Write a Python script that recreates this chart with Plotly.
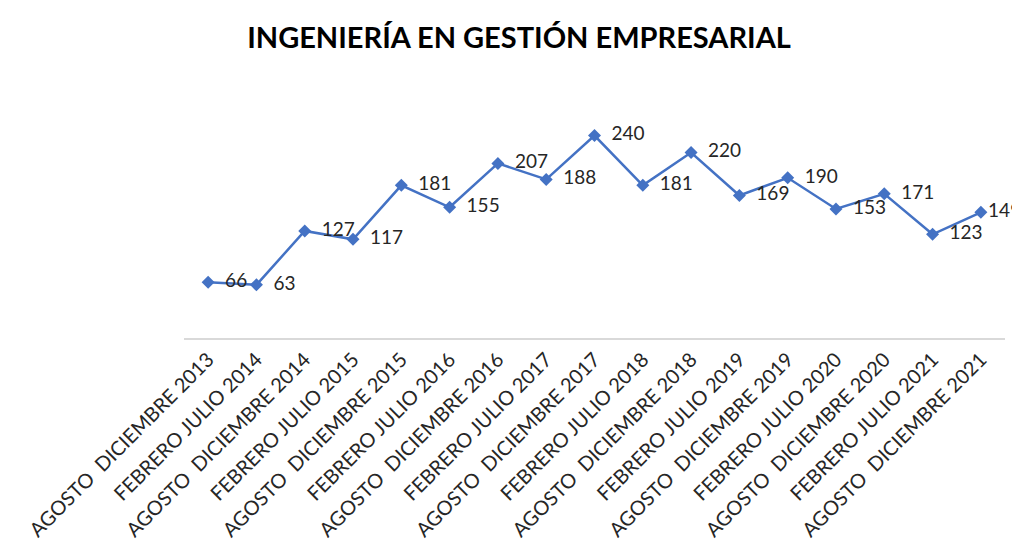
import plotly.graph_objects as go

periodos = [
    "AGOSTO\u00a0 DICIEMBRE 2013", "FEBRERO JULIO 2014",
    "AGOSTO\u00a0 DICIEMBRE 2014", "FEBRERO JULIO 2015",
    "AGOSTO\u00a0 DICIEMBRE 2015", "FEBRERO JULIO 2016",
    "AGOSTO\u00a0 DICIEMBRE 2016", "FEBRERO JULIO 2017",
    "AGOSTO\u00a0 DICIEMBRE 2017", "FEBRERO JULIO 2018",
    "AGOSTO\u00a0 DICIEMBRE 2018", "FEBRERO JULIO 2019",
    "AGOSTO\u00a0 DICIEMBRE 2019", "FEBRERO JULIO 2020",
    "AGOSTO\u00a0 DICIEMBRE 2020", "FEBRERO JULIO 2021",
    "AGOSTO\u00a0 DICIEMBRE 2021",
]
alumnos = [66, 63, 127, 117, 181, 155, 207, 188, 240, 181, 220, 169, 190, 153, 171, 123, 149]

fuente = "Lato, Calibri, sans-serif"

# etiquetas a la derecha del punto; la ultima va mas pegada (como en el original)
etiquetas = ["\u00a0\u00a0" + str(v) for v in alumnos]
etiquetas[-1] = str(alumnos[-1])

fig = go.Figure()
fig.add_trace(go.Scatter(
    x=periodos, y=alumnos,
    mode="lines+markers+text",
    line=dict(color="#4472C4", width=2.5),
    marker=dict(symbol="diamond", size=10, color="#4472C4"),
    text=etiquetas,
    textposition="middle right",
    textfont=dict(family=fuente, size=19, color="#262626"),
    cliponaxis=False,
))

# la pagina tiene 8px de margen en el body
fig.update_layout(
    width=1012, height=549,
    margin=dict(l=176, r=15, t=77, b=219),
    paper_bgcolor="white", plot_bgcolor="white",
    showlegend=False,
    title=dict(text="<b>INGENIERÍA EN GESTIÓN EMPRESARIAL</b>",
               x=0.505, xanchor="center", y=1 - 30 / 549, yanchor="middle",
               font=dict(family=fuente, size=29, color="black")),
    font=dict(family=fuente),
)
fig.update_xaxes(
    tickangle=-45, tickfont=dict(family=fuente, size=20, color="#262626"),
    showline=True, linecolor="#D9D9D9", linewidth=2,
    showgrid=False, ticks="", range=[-0.5, 16.5],
)
fig.update_yaxes(range=[0, 300], visible=False, showgrid=False)

fig.write_html("out.html")
